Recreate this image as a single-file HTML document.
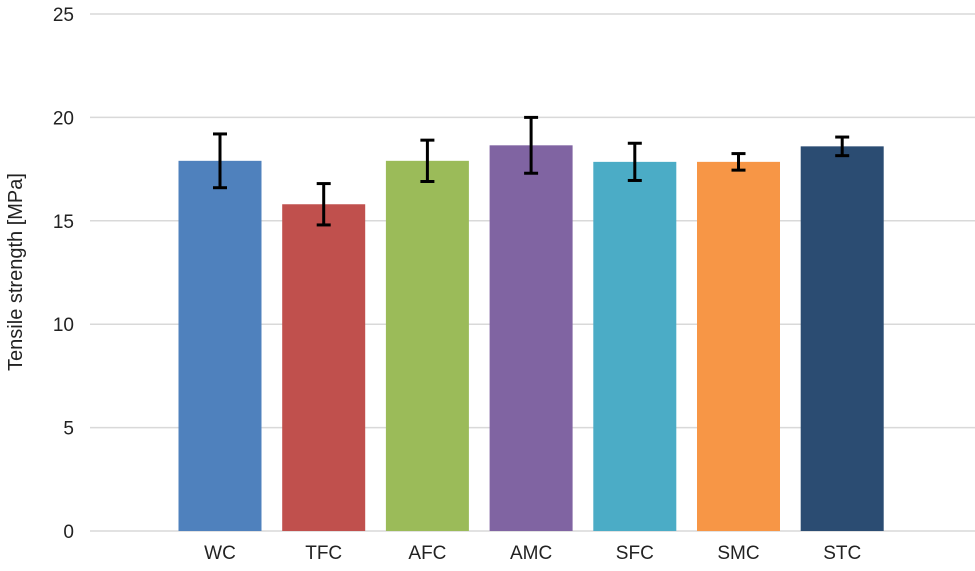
<!DOCTYPE html>
<html><head><meta charset="utf-8"><style>
body{margin:0;background:#fff}
svg{display:block;font-family:"Liberation Sans",sans-serif}
</style></head><body>
<svg id="c" width="975" height="571"></svg>
<script>
const categories=["WC","TFC","AFC","AMC","SFC","SMC","STC"];
const values=[17.9,15.8,17.9,18.65,17.85,17.85,18.6];
const errors=[1.3,1.0,1.0,1.35,0.9,0.4,0.45];
const colors=["#4F81BD","#C0504D","#9BBB59","#8064A2","#4BACC6","#F79646","#2B4C72"];
const yTicks=[0,5,10,15,20,25];
const NS="http://www.w3.org/2000/svg";
const svg=document.getElementById('c');
const y=v=>531-v*20.68;
const x=i=>220+i*103.7;
function mk(t,a,p){const e=document.createElementNS(NS,t);for(const k in a)e.setAttribute(k,a[k]);(p||svg).appendChild(e);return e;}
yTicks.forEach(t=>{
 const g=mk('line',{x1:90,x2:975,y1:y(t),y2:y(t),stroke:'#d9d9d9','stroke-width':1.5});
 
 
 const l=mk('text',{x:74,y:y(t)+7,'text-anchor':'end','font-size':19,fill:'#222'});
 l.textContent=t;
 
 
});
categories.forEach((c,i)=>{
 const b=mk('rect',{x:x(i)-41.5,y:y(values[i]),width:83,height:y(0)-y(values[i]),fill:colors[i]});
 
 
 const hi=y(values[i]+errors[i]),lo=y(values[i]-errors[i]);
 const g=mk('g',{stroke:'#000','stroke-width':3});
 
 
 mk('line',{x1:x(i),x2:x(i),y1:hi,y2:lo},g);
 mk('line',{x1:x(i)-7,x2:x(i)+7,y1:hi,y2:hi},g);
 mk('line',{x1:x(i)-7,x2:x(i)+7,y1:lo,y2:lo},g);
 const l=mk('text',{x:x(i),y:559,'text-anchor':'middle','font-size':19,fill:'#222'});
 l.textContent=c;
 
 
});
const t=mk('text',{x:0,y:0,transform:'translate(22,272) rotate(-90)','text-anchor':'middle','font-size':20,fill:'#222'});
t.textContent='Tensile strength [MPa]';


</script>
</body></html>
